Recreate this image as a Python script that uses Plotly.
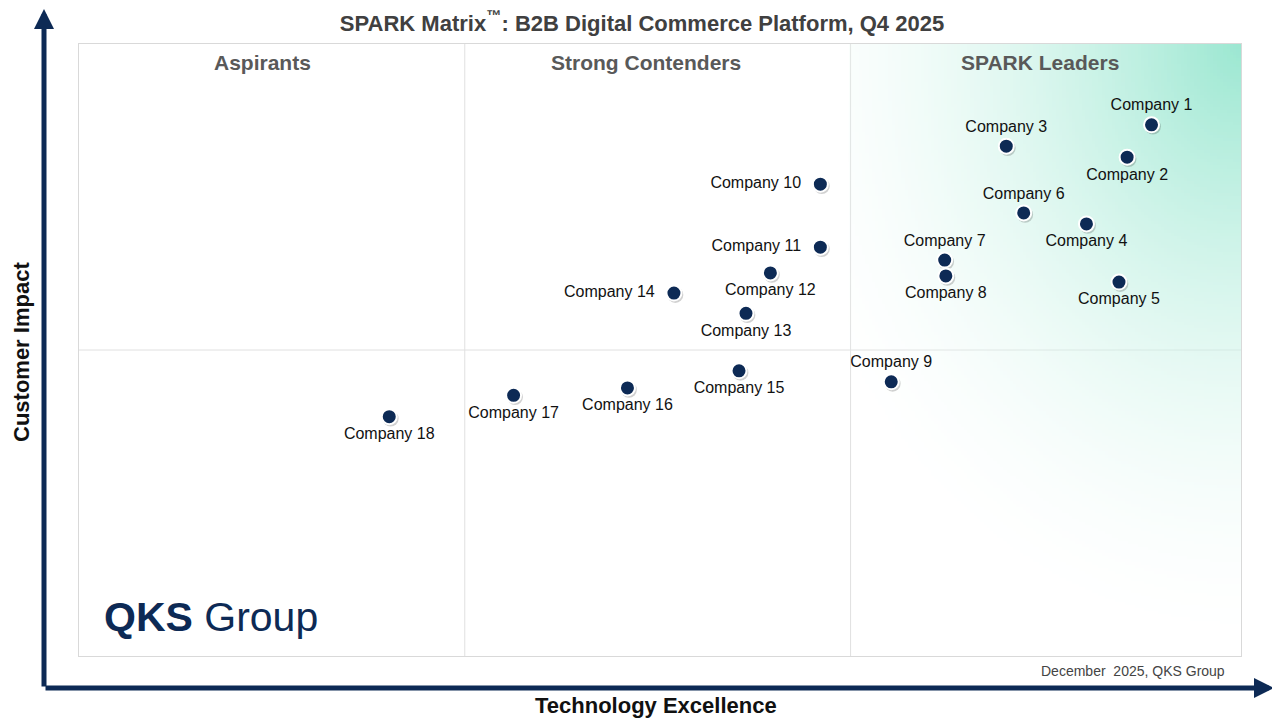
import numpy as np
import plotly.graph_objects as go

companies = [f"Company {i}" for i in range(1, 19)]
tech = [92.3, 90.2, 79.8, 86.7, 89.5, 81.3, 74.5, 74.6, 69.9, 63.8, 63.8, 59.5, 57.4, 51.2, 56.8, 47.2, 37.4, 26.7]
impact = [86.8, 81.5, 83.3, 70.6, 61.1, 72.4, 64.7, 62.1, 44.8, 77.1, 66.8, 62.6, 56.0, 59.3, 46.6, 43.8, 42.6, 39.1]
label_pos = ["top center", "bottom center", "top center", "bottom center", "bottom center", "top center",
             "top center", "bottom center", "top center", "middle left", "middle left", "bottom center",
             "bottom center", "middle left", "bottom center", "bottom center", "bottom center", "bottom center"]
quadrants = ["Aspirants", "Strong Contenders", "SPARK Leaders"]

navy = "#0d2a55"
# page is drawn 8px in from the window corner
OFF = 8
W, H = 1162, 612
def px(x):
    return (x - OFF - 71) / W
def py(y):
    return (648 - (y - OFF)) / H

fig = go.Figure()

# leaders gradient
gx = np.linspace(66.4, 100, 120)
gy = np.linspace(0, 100, 200)
X, Y = np.meshgrid(gx, gy)
d = np.sqrt(((100 - X) / 42) ** 2 + ((100 - Y) / 100) ** 2)
Z = np.clip(1 - d, 0, 1) ** 0.9
fig.add_trace(go.Heatmap(x=gx, y=gy, z=Z, colorscale=[[0, "rgba(255,255,255,0)"], [1, "#9be7d1"]],
                         showscale=False, hoverinfo="skip", zmin=0, zmax=1))

# shadow
fig.add_trace(go.Scatter(x=[t + 0.12 for t in tech], y=[i - 0.3 for i in impact], mode="markers",
                         marker=dict(size=16, color="rgba(0,0,0,0.18)"), hoverinfo="skip"))
texts = [c + "  " if p == "middle left" else c for c, p in zip(companies, label_pos)]
fig.add_trace(go.Scatter(x=tech, y=impact, mode="markers+text", text=texts,
                         textposition=label_pos,
                         textfont=dict(family="Liberation Sans, Arial", size=16, color="#111"),
                         marker=dict(size=15, color=navy, line=dict(color="white", width=2))))

for xv in [33.2, 66.4]:
    fig.add_shape(type="line", x0=xv, x1=xv, y0=0, y1=100, line=dict(color="#e0e0e0", width=1), layer="below")
fig.add_shape(type="line", x0=0, x1=100, y0=50, y1=50, line=dict(color="#e0e0e0", width=1), layer="below")

for q, xc in zip(quadrants, [15.8, 48.8, 82.7]):
    fig.add_annotation(x=xc, y=97, text=f"<b>{q}</b>", showarrow=False,
                       font=dict(family="Liberation Sans, Arial", size=21, color="#595959"))

# axis arrows
fig.add_annotation(x=px(44), y=py(8), xref="paper", yref="paper", ax=0, ay=680, showarrow=True,
                   arrowhead=2, arrowsize=0.8, arrowwidth=5, arrowcolor=navy, text="")
fig.add_annotation(x=px(1274), y=py(688), xref="paper", yref="paper", ax=-1230, ay=0, showarrow=True,
                   arrowhead=2, arrowsize=0.8, arrowwidth=5, arrowcolor=navy, text="")

def note(x, y, text, size, color, anchor="center", angle=0):
    fig.add_annotation(x=px(x), y=py(y), xref="paper", yref="paper", text=text, textangle=angle,
                       xanchor=anchor, yanchor="middle", showarrow=False,
                       font=dict(family="Liberation Sans, Arial", size=size, color=color))

note(656, 705, "<b>Technology Excellence</b>", 22, "#111")
note(21, 352, "<b>Customer Impact</b>", 22, "#111", angle=-90)
note(1133, 671, "December  2025, QKS Group", 14, "#444")
note(102, 617, "<b>QKS</b> Group", 41, navy, anchor="left")

fig.update_layout(
    width=1280, height=720,
    margin=dict(l=71, r=47, t=36, b=72, autoexpand=False),
    paper_bgcolor="white", plot_bgcolor="white",
    showlegend=False,
    title=dict(text="<b>SPARK Matrix<sup>™</sup>: B2B Digital Commerce Platform, Q4 2025</b>",
               x=(642 - OFF) / 1280, xanchor="center", y=1 - (23 - OFF) / 720, yanchor="middle",
               font=dict(family="Liberation Sans, Arial", size=22, color="#404040")),
    xaxis=dict(range=[0, 100], showgrid=False, zeroline=False, showticklabels=False, ticks="",
               showline=True, mirror=True, linecolor="#d9d9d9", linewidth=1),
    yaxis=dict(range=[0, 100], showgrid=False, zeroline=False, showticklabels=False, ticks="",
               showline=True, mirror=True, linecolor="#d9d9d9", linewidth=1),
)

fig.write_html("out.html")
